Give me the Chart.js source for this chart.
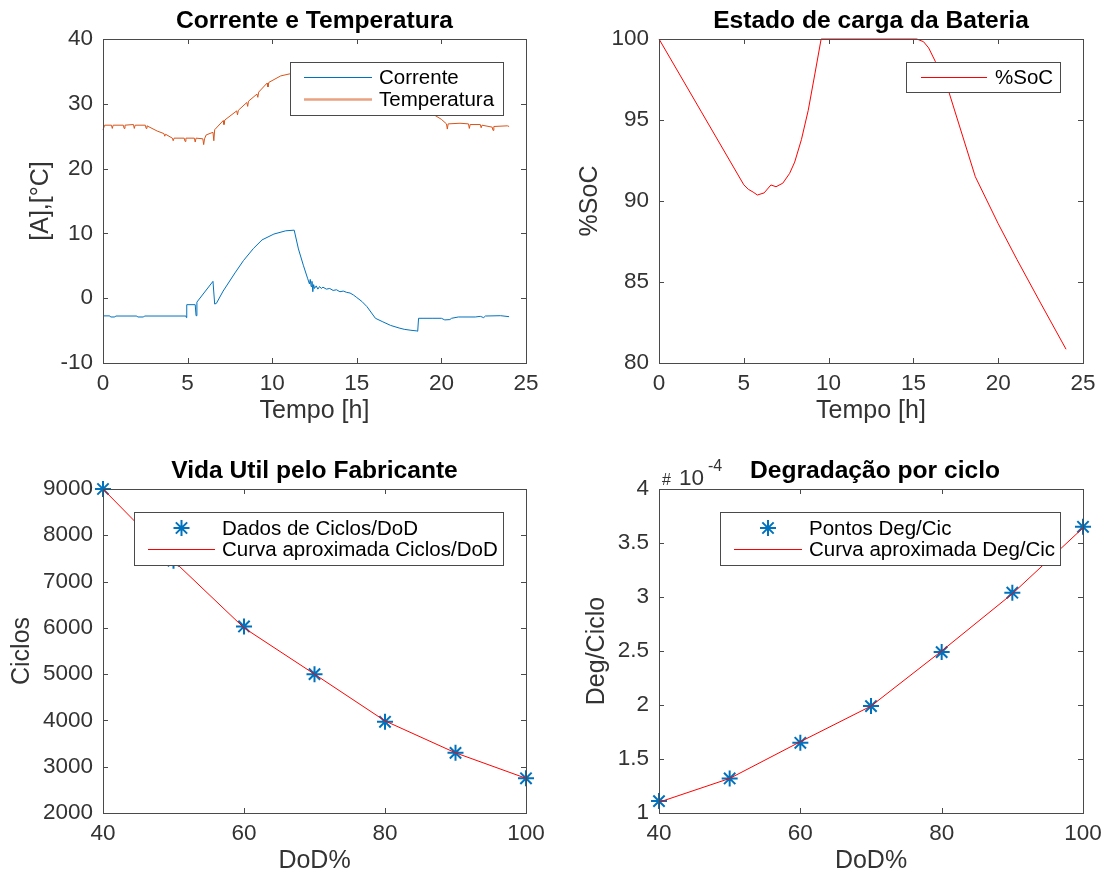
<!DOCTYPE html>
<html>
<head>
<meta charset="utf-8">
<script src="https://cdn.jsdelivr.net/npm/chart.js@4.4.1/dist/chart.umd.min.js"></script>
<style>
  html, body { margin: 0; padding: 0; background: #fff; }
  #stage { position: relative; width: 1109px; height: 876px; }
  #stage canvas { position: absolute; left: 0; top: 0; }
</style>
</head>
<body>
<div id="stage">
  <canvas id="cTemp" width="1109" height="876"></canvas>
  <canvas id="cSoc" width="1109" height="876"></canvas>
  <canvas id="cLife" width="1109" height="876"></canvas>
  <canvas id="cDeg" width="1109" height="876"></canvas>
</div>
<script>
  // Corrente [A] over the day
  var CUR_T = [0, 0.4, 0.45, 0.7, 0.75, 2.0, 2.05, 2.4, 2.45, 4.9, 4.93, 4.95, 5.45, 5.5, 5.55, 6.5, 6.6, 6.7, 7.1, 7.8, 8.3, 8.9, 9.4, 10.1, 10.8, 11.3,
    11.55, 11.85, 12.1, 12.2, 12.25, 12.3, 12.35, 12.4, 12.45, 12.5, 12.6, 12.7, 12.8, 12.9, 13.0, 13.2, 13.4, 13.6, 13.8, 14.0, 14.2, 14.4, 14.6, 14.8,
    15.0, 15.3, 15.6, 16.1, 16.5, 17.0, 17.5, 17.8, 18.2, 18.55, 18.6, 18.65, 19.5, 20.0, 20.2, 20.5, 20.6, 21.0, 22.0, 22.3, 22.5, 22.6, 23.5, 24.0];
  var CUR_V = [-2.73, -2.73, -2.9, -2.9, -2.75, -2.75, -2.9, -2.9, -2.75, -2.75, -3.0, -1.0, -1.0, -2.7, -0.6, 2.6, -0.9, -0.8, 1.1, 3.9, 5.8, 7.7, 9.0, 9.9, 10.4, 10.5,
    7.6, 5.0, 3.0, 2.2, 2.9, 1.8, 2.6, 1.0, 2.1, 1.5, 1.9, 1.4, 1.8, 1.5, 1.7, 1.4, 1.5, 1.2, 1.3, 1.0, 1.1, 0.9, 0.8, 0.5,
    0.1, -0.5, -1.3, -3.1, -3.6, -4.2, -4.6, -4.8, -4.95, -5.05, -5.1, -3.1, -3.1, -3.1, -3.35, -3.3, -3.1, -2.9, -2.9, -2.8, -3.0, -2.75, -2.7, -2.85];

  // Temperatura [°C]
  var TEMP_T = [0, 0.1, 0.5, 0.55, 0.6, 1.2, 1.25, 1.3, 1.8, 1.85, 1.9, 2.5, 2.55, 2.6, 3.2, 3.6, 3.65, 3.7, 4.1, 4.15, 4.2, 4.8, 4.85, 4.9, 5.4, 5.45, 5.5,
    5.9, 5.95, 6.0, 6.1, 6.5, 6.55, 6.6, 7.1, 7.15, 7.2, 7.9, 7.95, 8.0, 8.5, 8.55, 8.6, 9.1, 9.15, 9.2, 9.7, 9.75, 9.8, 10.5, 11.0,
    12.0, 14.0, 15.5, 17.0, 18.5, 19.5, 20.0, 20.3, 20.35, 20.4, 21.1, 21.6, 21.65, 21.7, 22.3, 22.35, 22.4, 23.0, 23.05, 23.1, 23.9, 24.0];
  var TEMP_V = [26.0, 26.7, 26.7, 26.2, 26.7, 26.7, 26.2, 26.7, 26.8, 26.2, 26.7, 26.7, 26.2, 26.6, 25.8, 25.4, 25.0, 25.3, 24.7, 24.3, 24.7, 24.7, 24.2, 24.7, 24.7, 24.1, 24.7,
    24.6, 23.7, 24.6, 25.2, 25.6, 24.3, 26.0, 27.4, 26.8, 27.5, 28.9, 28.3, 29.0, 30.2, 29.6, 30.4, 31.5, 31.0, 31.8, 33.2, 32.6, 33.3, 34.3, 34.6,
    35.0, 35.0, 34.0, 32.0, 29.8, 28.4, 27.6, 26.9, 26.1, 26.9, 27.0, 26.9, 26.2, 26.8, 26.8, 26.3, 26.7, 26.4, 25.9, 26.5, 26.6, 26.5];

  // Estado de carga [%]
  var SOC_T = [0, 2.5, 5.0, 5.27, 5.55, 5.8, 6.2, 6.6, 6.9, 7.3, 7.7, 8.0, 8.4, 8.8, 9.2, 9.56, 15.2, 15.6, 15.9, 16.3, 17.1, 18.65, 20.0, 21.1, 22.5, 24.0];
  var SOC_V = [100, 95.5, 91.0, 90.72, 90.55, 90.37, 90.5, 90.99, 90.88, 91.1, 91.7, 92.4, 93.8, 95.6, 97.9, 100, 100, 99.83, 99.45, 98.6, 96.7, 91.5, 88.6, 86.4, 83.7, 80.85];

  // Vida util x DoD
  var DOD = [40, 50, 60, 70, 80, 90, 100];
  var CYCLES_PTS = [9000, 7450, 6030, 5000, 3970, 3300, 2750];
  var CYCLES_FIT = [9000, 7450, 6000, 5000, 3990, 3300, 2750];
  var DEG_PTS = [1.11e-4, 1.32e-4, 1.65e-4, 1.99e-4, 2.49e-4, 3.04e-4, 3.65e-4];
  var DEG_FIT = [1.10e-4, 1.32e-4, 1.66e-4, 1.99e-4, 2.50e-4, 3.03e-4, 3.64e-4];

  var HOUR_TICKS = [0, 25, 5];
  var CURRENT_TICKS = [-10, 40, 10];
  var SOC_TICKS = [80, 100, 5];
  var DOD_TICKS = [40, 100, 20];
  var CYCLE_TICKS = [2000, 9000, 1000];
  var DEG_TICKS = [1e-4, 4e-4, 0.5e-4];

  var FONT = '"Liberation Sans", Arial, Helvetica, sans-serif';
  var INK = '#333333';
  var FRAME = '#4a4a4a';
  var BLUE = '#0072BD', ORANGE = '#D95319', RED = '#FF0000';

  function pairs(xs, ys) {
    return xs.map(function (x, i) { return {x: x, y: ys[i]}; });
  }

  function plain(v) { return String(v); }

  function axis(range, title, titlePad, size, isX, fmt) {
    return {
      type: 'linear', min: range[0], max: range[1],
      grid: {display: false, drawTicks: false}, border: {display: false},
      ticks: {stepSize: range[2], padding: isX ? 7 : 10, color: INK, font: {family: FONT, size: 22.5},
        maxRotation: 0, autoSkip: false, callback: fmt || plain},
      title: {display: true, text: title, color: INK, font: {family: FONT, size: 25},
        padding: isX ? {top: 0, bottom: titlePad} : {top: titlePad, bottom: 0}},
      afterFit: function (s) { if (isX) s.height = size; else s.width = size; }
    };
  }

  function lineSet(label, data, color) {
    return {label: label, data: data, showLine: true, borderColor: color, backgroundColor: color,
      borderWidth: 1, pointRadius: 0, tension: 0, clip: false, order: 0};
  }

  function starSet(label, data) {
    return {label: label, data: data, showLine: false, pointStyle: 'star', pointRadius: 8, pointBorderWidth: 2,
      borderColor: BLUE, backgroundColor: BLUE, clip: false, order: 1};
  }

  function drawStar(ctx, x, y, r) {
    var d = r * Math.SQRT1_2;
    ctx.beginPath();
    ctx.moveTo(x - r, y); ctx.lineTo(x + r, y);
    ctx.moveTo(x, y - r); ctx.lineTo(x, y + r);
    ctx.moveTo(x - d, y - d); ctx.lineTo(x + d, y + d);
    ctx.moveTo(x - d, y + d); ctx.lineTo(x + d, y - d);
    ctx.stroke();
  }

  // MATLAB look: box round the axes, inward ticks, title, boxed legend
  var matlabFrame = {
    id: 'matlabFrame',
    afterDatasetsDraw: function (chart) {
      var ctx = chart.ctx, a = chart.chartArea, sx = chart.scales.x, sy = chart.scales.y, t = 5;
      ctx.save();
      ctx.strokeStyle = FRAME;
      ctx.lineWidth = 1;
      ctx.beginPath();
      sx.ticks.forEach(function (tick) {
        var px = Math.round(sx.getPixelForValue(tick.value)) + 0.5;
        ctx.moveTo(px, a.bottom); ctx.lineTo(px, a.bottom - t);
        ctx.moveTo(px, a.top); ctx.lineTo(px, a.top + t);
      });
      sy.ticks.forEach(function (tick) {
        var py = Math.round(sy.getPixelForValue(tick.value)) + 0.5;
        ctx.moveTo(a.left, py); ctx.lineTo(a.left + t, py);
        ctx.moveTo(a.right, py); ctx.lineTo(a.right - t, py);
      });
      ctx.stroke();
      ctx.strokeRect(Math.round(a.left) + 0.5, Math.round(a.top) + 0.5, Math.round(a.right - a.left), Math.round(a.bottom - a.top));
      ctx.restore();
    },
    afterDraw: function (chart, args, opts) {
      var ctx = chart.ctx, a = chart.chartArea;
      ctx.save();
      ctx.fillStyle = '#000';
      ctx.font = 'bold 24.6px ' + FONT;
      ctx.textAlign = 'center';
      ctx.textBaseline = 'middle';
      ctx.fillText(opts.title, (a.left + a.right) / 2 + (opts.titleDx || 0), a.top - 18);

      var lg = opts.legend;
      ctx.fillStyle = '#fff';
      ctx.fillRect(lg.box[0], lg.box[1], lg.box[2], lg.box[3]);
      ctx.strokeStyle = FRAME;
      ctx.lineWidth = 1;
      ctx.strokeRect(lg.box[0] + 0.5, lg.box[1] + 0.5, lg.box[2], lg.box[3]);
      ctx.font = '20.5px ' + FONT;
      ctx.textAlign = 'left';
      lg.rows.forEach(function (row, i) {
        var ds = chart.data.datasets[i];
        ctx.strokeStyle = ds.borderColor;
        if (ds.showLine) {
          ctx.lineWidth = row.width || 1;
          ctx.globalAlpha = row.alpha || 1;
          ctx.beginPath();
          ctx.moveTo(lg.line[0], row.y + 0.5);
          ctx.lineTo(lg.line[1], row.y + 0.5);
          ctx.stroke();
          ctx.globalAlpha = 1;
        } else {
          ctx.lineWidth = 2;
          drawStar(ctx, (lg.line[0] + lg.line[1]) / 2, row.y, 8);
        }
        ctx.fillStyle = '#000';
        ctx.fillText(ds.label, lg.textX, row.y + 1);
      });

      if (opts.exponent) {
        var e = opts.exponent;
        ctx.fillStyle = INK;
        ctx.textBaseline = 'alphabetic';
        ctx.font = '16px ' + FONT;
        ctx.fillText('#', e.x, e.y);
        ctx.font = '22.5px ' + FONT;
        ctx.fillText('10', e.x + 17, e.y);
        ctx.font = '16px ' + FONT;
        ctx.fillText('-4', e.x + 46, e.y - 14);
      }
      ctx.restore();
    }
  };

  function makeChart(id, datasets, scales, padding, frame) {
    return new Chart(document.getElementById(id), {
      type: 'scatter',
      data: {datasets: datasets},
      options: {
        responsive: false, animation: false, events: [],
        layout: {padding: padding},
        plugins: {legend: {display: false}, tooltip: {enabled: false}, matlabFrame: frame},
        scales: scales
      },
      plugins: [matlabFrame]
    });
  }

  makeChart('cTemp',
    [lineSet('Corrente', pairs(CUR_T, CUR_V), BLUE), lineSet('Temperatura', pairs(TEMP_T, TEMP_V), ORANGE)],
    {x: axis(HOUR_TICKS, 'Tempo [h]', 7, 70, true), y: axis(CURRENT_TICKS, '[A],[°C]', 26, 103, false)},
    {left: 0, right: 583, top: 39, bottom: 443},
    {title: 'Corrente e Temperatura',
      legend: {box: [290, 62, 213, 53], line: [304, 372], textX: 379, rows: [{y: 77}, {y: 99, width: 2.5, alpha: 0.55}]}});

  makeChart('cSoc',
    [lineSet('%SoC', pairs(SOC_T, SOC_V), RED)],
    {x: axis(HOUR_TICKS, 'Tempo [h]', 7, 70, true), y: axis(SOC_TICKS, '%SoC', 19, 103, false)},
    {left: 556, right: 26, top: 39, bottom: 443},
    {title: 'Estado de carga da Bateria',
      legend: {box: [906, 62, 154, 30], line: [921, 987], textX: 995, rows: [{y: 77}]}});

  makeChart('cLife',
    [starSet('Dados de Ciclos/DoD', pairs(DOD, CYCLES_PTS)), lineSet('Curva aproximada Ciclos/DoD', pairs(DOD, CYCLES_FIT), RED)],
    {x: axis(DOD_TICKS, 'DoD%', 0, 63, true), y: axis(CYCLE_TICKS, 'Ciclos', 7, 103, false)},
    {left: 0, right: 583, top: 489, bottom: 0},
    {title: 'Vida Util pelo Fabricante',
      legend: {box: [134, 512, 369, 53], line: [148, 215], textX: 222, rows: [{y: 528}, {y: 549}]}});

  makeChart('cDeg',
    [starSet('Pontos Deg/Cic', pairs(DOD, DEG_PTS)), lineSet('Curva aproximada Deg/Cic', pairs(DOD, DEG_FIT), RED)],
    {x: axis(DOD_TICKS, 'DoD%', 0, 63, true),
      y: axis(DEG_TICKS, 'Deg/Ciclo', 26, 103, false, function (v) { return String(Math.round(v * 1e5) / 10); })},
    {left: 556, right: 26, top: 489, bottom: 0},
    {title: 'Degradação por ciclo', titleDx: 4, exponent: {x: 662, y: 485},
      legend: {box: [720, 512, 340, 53], line: [734, 802], textX: 809, rows: [{y: 528}, {y: 549}]}});
</script>
</body>
</html>
